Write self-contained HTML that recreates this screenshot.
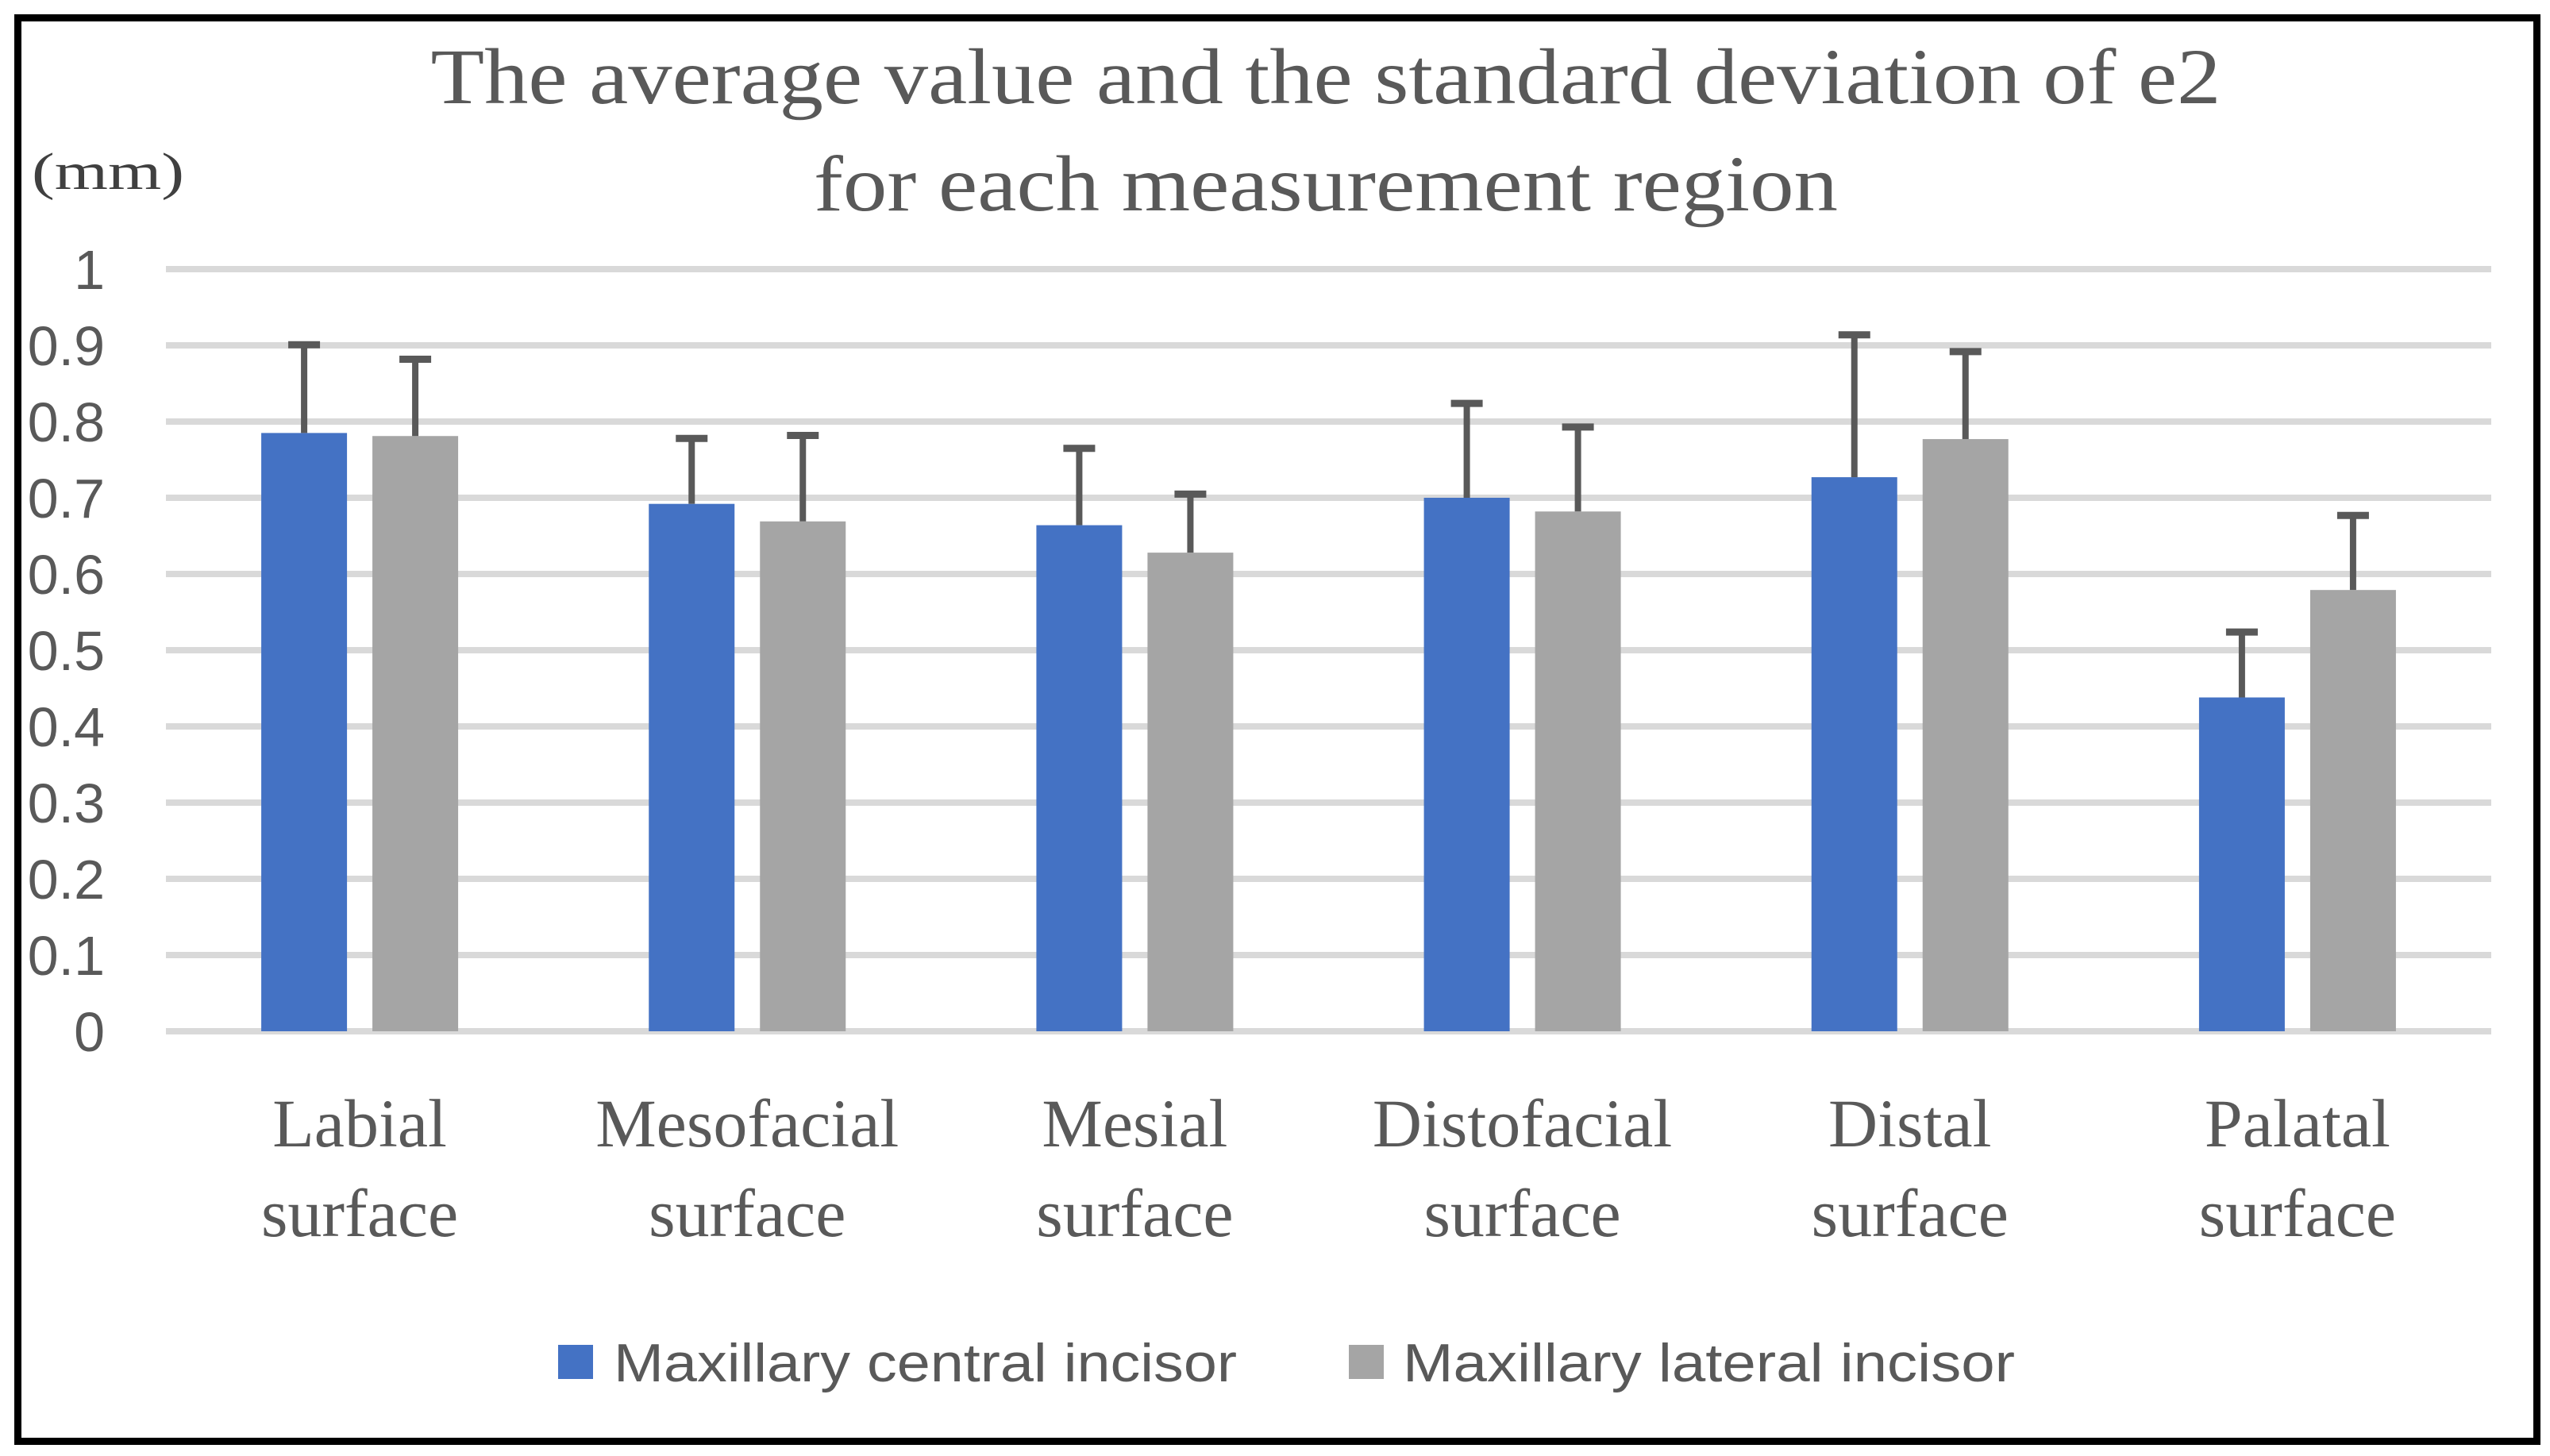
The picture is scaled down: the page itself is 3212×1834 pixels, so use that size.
<!DOCTYPE html>
<html><head><meta charset="utf-8"><style>
html,body{margin:0;padding:0;background:#fff;}
svg{display:block;}
</style></head><body>
<svg id="chart" width="3212" height="1834" viewBox="0 0 3212 1834" xmlns="http://www.w3.org/2000/svg">
<rect x="22.5" y="22.5" width="3173" height="1793" fill="#fff" stroke="#000" stroke-width="9"/>
<text x="1670" y="130" text-anchor="middle" font-family="Liberation Serif, serif" font-size="100" fill="#595959" textLength="2255" lengthAdjust="spacingAndGlyphs">The average value and the standard deviation of e2</text>
<text x="1670" y="265" text-anchor="middle" font-family="Liberation Serif, serif" font-size="100" fill="#595959" textLength="1290" lengthAdjust="spacingAndGlyphs">for each measurement region</text>
<text x="40" y="238" font-family="Liberation Serif, serif" font-size="66" fill="#404040" textLength="192" lengthAdjust="spacingAndGlyphs">(mm)</text>
<g id="grid"></g><g id="yticks"></g><g id="bars"></g><g id="errs"></g><g id="xlabels"></g>
<g>
<rect x="703" y="1694" width="44" height="43" fill="#4472c4"/>
<text x="773" y="1740" font-family="Liberation Sans, sans-serif" font-size="68" fill="#595959" textLength="785" lengthAdjust="spacingAndGlyphs">Maxillary central incisor</text>
<rect x="1699" y="1694" width="44" height="43" fill="#a5a5a5"/>
<text x="1767" y="1740" font-family="Liberation Sans, sans-serif" font-size="68" fill="#595959" textLength="771" lengthAdjust="spacingAndGlyphs">Maxillary lateral incisor</text>
</g>
</svg>
<script>
const categories = ["Labial", "Mesofacial", "Mesial", "Distofacial", "Distal", "Palatal"];
const centralMeans = [0.785, 0.692, 0.664, 0.700, 0.727, 0.438];
const centralErrTops = [0.905, 0.782, 0.769, 0.828, 0.918, 0.528];
const lateralMeans = [0.781, 0.669, 0.628, 0.682, 0.777, 0.579];
const lateralErrTops = [0.886, 0.786, 0.709, 0.797, 0.896, 0.681];
const yTicks = ["0", "0.1", "0.2", "0.3", "0.4", "0.5", "0.6", "0.7", "0.8", "0.9", "1"];

const NS = "http://www.w3.org/2000/svg";
const plotL = 209, plotR = 3138, y0 = 1299, y1 = 339;
const yScale = v => y0 - (v / 1) * (y0 - y1);
const band = (plotR - plotL) / categories.length;
const xCenter = i => plotL + band * (i + 0.5);
const barW = 108, gap = 32;
function mk(tag, attrs, parent) {
  const el = document.createElementNS(NS, tag);
  for (const k in attrs) el.setAttribute(k, attrs[k]);
  parent.appendChild(el);
  return el;
}
const grid = document.getElementById("grid"), yt = document.getElementById("yticks");
yTicks.forEach(t => {
  const v = parseFloat(t), y = yScale(v);
  const l = mk("line", {x1: plotL, x2: plotR, y1: y, y2: y, stroke: "#d9d9d9", "stroke-width": 8}, grid);
  
  
  const tx = mk("text", {x: 132, y: y + 25, "text-anchor": "end", "font-family": "Liberation Sans, sans-serif", "font-size": 70, fill: "#595959"}, yt);
  tx.textContent = t;
  
  
});
const bars = document.getElementById("bars"), errs = document.getElementById("errs"), xl = document.getElementById("xlabels");
categories.forEach((c, i) => {
  const cx = xCenter(i);
  [[centralMeans, centralErrTops, "#4472c4", cx - gap / 2 - barW], [lateralMeans, lateralErrTops, "#a5a5a5", cx + gap / 2]].forEach(([m, e, col, x]) => {
    const yt2 = yScale(m[i]);
    const r = mk("rect", {x: x, y: yt2, width: barW, height: y0 - yt2, fill: col}, bars);
    
    
    const ex = x + barW / 2, ey = yScale(e[i]);
    const g = mk("g", {}, errs);
    
    
    mk("line", {x1: ex, x2: ex, y1: yt2, y2: ey, stroke: "#595959", "stroke-width": 8}, g);
    mk("line", {x1: ex - 20, x2: ex + 20, y1: ey + 4, y2: ey + 4, stroke: "#595959", "stroke-width": 9}, g);
  });
  const t1 = mk("text", {x: cx, y: 1444, "text-anchor": "middle", "font-family": "Liberation Serif, serif", "font-size": 86, fill: "#595959"}, xl);
  t1.textContent = c;
  
  
  const t2 = mk("text", {x: cx, y: 1557, "text-anchor": "middle", "font-family": "Liberation Serif, serif", "font-size": 86, fill: "#595959"}, xl);
  t2.textContent = "surface";
  
  
});
</script>
</body></html>
